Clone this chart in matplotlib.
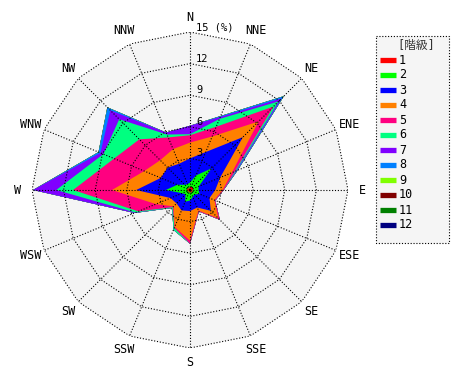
import numpy as np
import matplotlib
matplotlib.use('Agg')
import matplotlib.pyplot as plt
from matplotlib.patches import Rectangle

# ---------------- data ----------------
directions = ['N', 'NNE', 'NE', 'ENE', 'E', 'ESE', 'SE', 'SSE',
              'S', 'SSW', 'SW', 'WSW', 'W', 'WNW', 'NW', 'NNW']
class_labels = ['1', '2', '3', '4', '5', '6', '7', '8', '9', '10', '11', '12']
class_colors = ['#ff0000', '#00ff00', '#0000ff', '#ff8000', '#ff0080', '#00ff80',
                '#8000ff', '#0080ff', '#80ff00', '#800000', '#008000', '#000080']

# frequency (%) of each class per direction (N, NNE, ... NNW)
c1 = [0.3, 0.3, 0.4, 0.3, 0.3, 0.2, 0.3, 0.2, 0.3, 0.2, 0.2, 0.2, 0.3, 0.3, 0.2, 0.2]
c2 = [0.4, 1.2, 2.5, 0.6, 0.5, 0.8, 0.3, 0.5, 0.7, 1.0, 0.4, 0.6, 2.0, 1.0, 0.5, 0.4]
c3 = [2.3, 2.4, 4.2, 2.2, 1.6, 1.0, 2.2, 1.1, 1.0, 0.9, 1.2, 1.2, 2.8, 1.7, 2.3, 2.1]
c4 = [1.5, 1.6, 2.1, 1.2, 0.7, 0.5, 1.0, 0.3, 2.8, 1.7, 0.4, 1.5, 2.3, 1.7, 1.0, 1.5]
c5 = [0.7, 1.0, 2.0, 0.3, 0.1, 0.1, 0.2, 0.1, 0.3, 0.1, 0.1, 1.8, 3.7, 3.1, 2.8, 1.2]
c6 = [0.1, 0.8, 0.7, 0.1, 0.0, 0.0, 0.0, 0.0, 0.0, 0.2, 0.1, 0.3, 1.6, 1.1, 2.7, 0.3]
c7 = [0.8, 0.2, 0.4, 0.1, 0.0, 0.0, 0.0, 0.0, 0.0, 0.0, 0.0, 0.1, 2.2, 0.3, 1.2, 0.2]
c8 = [0.0, 0.1, 0.3, 0.1, 0.0, 0.0, 0.0, 0.0, 0.0, 0.0, 0.0, 0.0, 0.0, 0.2, 0.4, 0.0]
c9 = [0.0] * 16
c10 = [0.0] * 16
c11 = [0.0] * 16
c12 = [0.0] * 16
classes = [c1, c2, c3, c4, c5, c6, c7, c8, c9, c10, c11, c12]

rings = [3, 6, 9, 12, 15]
ring_labels = ['3', '6', '9', '12', '15 (%)']
rmax = 15

MONO = ['DejaVu Sans Mono', 'Noto Sans CJK JP']

# ---------------- figure ----------------
W, H = 470, 380
fig = plt.figure(figsize=(W / 100, H / 100), dpi=100)
fig.patch.set_facecolor('white')

ax = fig.add_axes([32 / W, 32 / H, 316 / W, 316 / H], projection='polar')
ax.set_theta_zero_location('N')
ax.set_theta_direction(-1)
ax.set_ylim(0, rmax)
ax.grid(False)
ax.spines['polar'].set_visible(False)
ax.set_xticks([])
ax.set_yticks([])
ax.patch.set_alpha(0)

theta = np.deg2rad(np.arange(len(directions)) * 360.0 / len(directions))
theta_c = np.append(theta, theta[0])

# background polygon
ax.fill(theta_c, [rmax] * len(theta_c), color='#f5f5f5', lw=0, zorder=0)

cum = np.cumsum(np.array(classes), axis=0)
for k in range(len(classes) - 1, -1, -1):
    r = np.append(cum[k], cum[k][0])
    ax.fill(theta_c, r, color=class_colors[k], lw=0, zorder=1)

dot = (0, (1, 1.6))
for rv in rings:
    ax.plot(theta_c, [rv] * len(theta_c), color='black', ls=dot, lw=0.8, zorder=3)
for t in theta:
    ax.plot([t, t], [0, rmax], color='black', ls=dot, lw=0.8, zorder=3)

for t, d in zip(theta, directions):
    ax.text(t, 16.35, d, ha='center', va='center', fontsize=8.5,
            family=MONO, color='black')

for rv, lab in zip(rings, ring_labels):
    ax.annotate(lab, xy=(0, rv), xytext=(6, 5), textcoords='offset pixels',
                ha='left', va='center', fontsize=7.5, family=MONO, color='black',
                zorder=5)

# ---------------- legend ----------------
lx0, ly0, lw_, lh_ = 375, 35, 75, 208
lax = fig.add_axes([lx0 / W, (H - ly0 - lh_) / H, lw_ / W, lh_ / H])
lax.set_xlim(0, lw_)
lax.set_ylim(lh_, 0)
lax.axis('off')
lax.add_patch(Rectangle((0.5, 0.5), lw_ - 1, lh_ - 1, facecolor='#f5f5f5',
                        edgecolor='black', ls=(0, (1, 1.6)), lw=0.8, clip_on=False))
lax.text(lw_ / 2 + 4, 10, '[階級]', ha='center', va='center', fontsize=8.5,
         family=MONO, color='#333333')
for i, (lab, col) in enumerate(zip(class_labels, class_colors)):
    y = 25 + 15 * i
    lax.plot([5, 21], [y, y], color=col, lw=3.8, solid_capstyle='butt')
    lax.text(24, y, lab, ha='left', va='center', fontsize=8.5, family=MONO,
             color='black')

fig.savefig('out.png', dpi=100, facecolor='white')
